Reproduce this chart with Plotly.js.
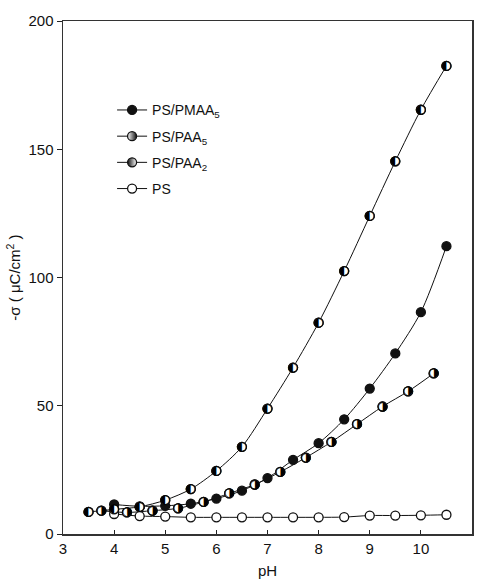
<!DOCTYPE html>
<html>
<head>
<meta charset="utf-8">
<script src="https://cdn.plot.ly/plotly-3.0.1.min.js"></script>
<style>body{margin:0;padding:0;background:#fff}#chart{width:478px;height:580px}</style>
</head>
<body>
<div id="chart"></div>
<script>
// pH values and surface charge density (-sigma, uC/cm2)
const pmaa5_pH = [4.0, 4.5, 5.0, 5.5, 6.0, 6.5, 7.0, 7.5, 8.0, 8.5, 9.0, 9.5, 10.0, 10.5];
const pmaa5_sigma = [11.5, 10.8, 11.0, 11.8, 13.8, 16.9, 21.8, 28.9, 35.4, 44.7, 56.7, 70.4, 86.5, 112.2];

const paa5_pH = [3.5, 4.0, 4.5, 5.0, 5.5, 6.0, 6.5, 7.0, 7.5, 8.0, 8.5, 9.0, 9.5, 10.0, 10.5];
const paa5_sigma = [8.6, 9.6, 10.6, 13.2, 17.5, 24.6, 34.0, 48.9, 64.9, 82.4, 102.5, 124.0, 145.3, 165.4, 182.5];

const paa2_pH = [3.75, 4.25, 4.75, 5.25, 5.75, 6.25, 6.75, 7.25, 7.75, 8.25, 8.75, 9.25, 9.75, 10.25];
const paa2_sigma = [9.1, 8.4, 9.1, 10.0, 12.5, 15.8, 19.3, 24.2, 29.8, 35.9, 42.8, 49.7, 55.6, 62.6];

const ps_pH = [4.0, 4.5, 5.0, 5.5, 6.0, 6.5, 7.0, 7.5, 8.0, 8.5, 9.0, 9.5, 10.0, 10.5];
const ps_sigma = [7.8, 7.0, 6.8, 6.5, 6.5, 6.5, 6.5, 6.5, 6.5, 6.6, 7.2, 7.2, 7.3, 7.5];

const seriesNames = ['PS/PMAA<sub>5</sub>', 'PS/PAA<sub>5</sub>', 'PS/PAA<sub>2</sub>', 'PS'];

const lineStyle = {color: '#111', width: 1, shape: 'spline', smoothing: 0.8};
const mk = (extra) => Object.assign({size: 9, line: {color: '#111', width: 1.3}}, extra);
const glyphFont = {family: 'DejaVu Sans', size: 12, color: '#000'};

const traces = [
  {x: pmaa5_pH, y: pmaa5_sigma, name: seriesNames[0], legendgroup: 'a', mode: 'lines+markers',
   line: lineStyle, marker: mk({symbol: 'circle', color: '#111'})},
  {x: paa5_pH, y: paa5_sigma, name: seriesNames[1], legendgroup: 'b', mode: 'lines+markers',
   line: lineStyle, marker: mk({symbol: 'circle', color: '#ffffff', gradient: {type: 'horizontal', color: '#111'}})},
  {x: paa2_pH, y: paa2_sigma, name: seriesNames[2], legendgroup: 'c', mode: 'lines+markers',
   line: lineStyle, marker: mk({symbol: 'circle', color: '#111', gradient: {type: 'horizontal', color: '#ffffff'}})},
  {x: ps_pH, y: ps_sigma, name: seriesNames[3], legendgroup: 'd', mode: 'lines+markers',
   line: lineStyle, marker: mk({symbol: 'circle', color: '#ffffff'})},
  // half-filled symbols drawn over the points
  {x: paa5_pH, y: paa5_sigma, showlegend: false, mode: 'markers+text',
   text: paa5_pH.map(() => '◐'), textposition: 'middle center', textfont: glyphFont,
   marker: mk({symbol: 'circle', color: '#ffffff'})},
  {x: paa2_pH, y: paa2_sigma, showlegend: false, mode: 'markers+text',
   text: paa2_pH.map(() => '◑'), textposition: 'middle center', textfont: glyphFont,
   marker: mk({symbol: 'circle', color: '#ffffff'})}
];

const layout = {
  width: 478, height: 580,
  margin: {l: 63, r: 6, t: 21, b: 46, pad: 0},
  paper_bgcolor: '#fff', plot_bgcolor: '#fff',
  font: {family: 'Liberation Sans, Arial, sans-serif', size: 15, color: '#111'},
  showlegend: true,
  legend: {x: 0.12, y: 0.857, xanchor: 'left', yanchor: 'top', bgcolor: 'rgba(0,0,0,0)',
           font: {size: 14, color: '#111'}, traceorder: 'grouped', tracegroupgap: 5, itemwidth: 30},
  xaxis: {range: [3, 11], tickvals: [3,4,5,6,7,8,9,10,11], ticks: 'inside', ticklen: 4, tickwidth: 1,
          tickcolor: '#222', showline: true, linecolor: '#333', linewidth: 1.5, mirror: true,
          showgrid: false, zeroline: false, tickfont: {size: 15},
          title: {text: 'pH', font: {size: 15}, standoff: 10}},
  yaxis: {range: [0, 200], tickvals: [0, 50, 100, 150, 200], ticks: 'outside', ticklen: 5, tickwidth: 1,
          tickcolor: '#222', showline: true, linecolor: '#333', linewidth: 1.5, mirror: true,
          showgrid: false, zeroline: false, tickfont: {size: 15},
          title: {text: '-σ ( μC/cm<sup>2</sup> )', font: {size: 15}, standoff: 4}}
};

Plotly.newPlot('chart', traces, layout, {displayModeBar: false, staticPlot: true});
</script>
</body>
</html>
